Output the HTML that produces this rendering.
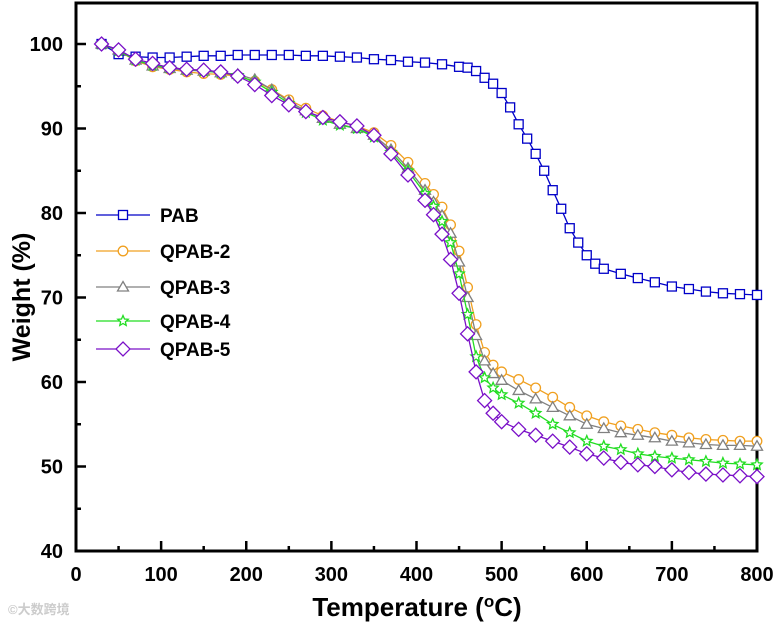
<!DOCTYPE html>
<html><head><meta charset="utf-8"><style>
body{margin:0;background:#fff;}
svg text{font-family:"Liberation Sans",sans-serif;font-weight:bold;}
</style></head><body>
<svg id="chart" width="779" height="625" xmlns="http://www.w3.org/2000/svg">
<g id="axes"></g>
<g id="series"></g>
<g id="legend"></g>
<text x="417" y="616" text-anchor="middle" font-size="26">Temperature (<tspan font-size="17" dy="-9">o</tspan><tspan dy="9">C)</tspan></text>
<text transform="translate(30,297) rotate(-90)" text-anchor="middle" font-size="25">Weight (%)</text>
<text x="8" y="614" font-size="13" fill="#ccc" font-weight="normal" style="font-family:'Liberation Sans','Noto Sans CJK SC',sans-serif">©大数跨境</text>
</svg>
<script>
const xTicks=[0,100,200,300,400,500,600,700,800];
const yTicks=[40,50,60,70,80,90,100];
const seriesNames=["PAB","QPAB-2","QPAB-3","QPAB-4","QPAB-5"];
const tempPAB=[30,50,70,90,110,130,150,170,190,210,230,250,270,290,310,330,350,370,390,410,430,450,460,470,480,490,500,510,520,530,540,550,560,570,580,590,600,610,620,640,660,680,700,720,740,760,780,800];
const wPAB=[100,98.8,98.5,98.4,98.4,98.5,98.6,98.6,98.7,98.7,98.7,98.7,98.6,98.6,98.5,98.4,98.2,98.1,97.9,97.8,97.6,97.3,97.2,96.8,96.0,95.3,94.2,92.5,90.5,88.8,87.0,85.0,82.7,80.5,78.2,76.5,75.0,74.0,73.4,72.8,72.3,71.8,71.3,71.0,70.7,70.5,70.4,70.3];
const tempQ=[30,50,70,90,110,130,150,170,190,210,230,250,270,290,310,330,350,370,390,410,420,430,440,450,460,470,480,490,500,520,540,560,580,600,620,640,660,680,700,720,740,760,780,800];
const wQ2=[100,99.2,98.0,97.3,97.0,96.7,96.5,96.4,96.2,95.6,94.6,93.4,92.4,91.5,90.8,90.3,89.5,88.0,86.0,83.5,82.2,80.7,78.6,75.5,71.2,66.8,63.5,62.0,61.2,60.3,59.3,58.2,57.0,56.0,55.3,54.8,54.4,54.0,53.7,53.4,53.2,53.1,53.0,53.0];
const wQ3=[100,99.3,98.1,97.4,97.1,96.9,96.8,96.6,96.4,95.8,94.6,93.2,92.1,91.2,90.5,90.0,89.2,87.5,85.3,82.7,81.3,79.7,77.6,74.2,70.0,65.5,62.5,61.0,60.2,59.0,58.0,57.0,56.0,55.0,54.5,54.0,53.7,53.4,53.0,52.8,52.6,52.5,52.5,52.4];
const wQ4=[100,99.2,98.1,97.5,97.2,97.0,96.8,96.6,96.3,95.5,94.3,93.0,91.9,91.0,90.4,90.0,89.0,87.2,85.0,82.3,80.8,79.0,76.5,72.8,68.0,63.0,60.5,59.3,58.5,57.5,56.3,55.0,54.0,53.0,52.4,52.0,51.5,51.2,51.0,50.8,50.6,50.4,50.3,50.2];
const wQ5=[100,99.3,98.2,97.7,97.2,97.0,96.9,96.7,96.2,95.2,93.9,92.8,92.0,91.3,90.8,90.3,89.2,87.0,84.5,81.5,79.8,77.5,74.5,70.5,65.7,61.2,57.8,56.3,55.3,54.4,53.7,53.0,52.3,51.5,51.0,50.5,50.2,50.0,49.6,49.3,49.1,49.0,48.9,48.8];

const NS="http://www.w3.org/2000/svg";
const X0=76,X1=757,Y0=551,YT=3;
const xs=v=>X0+(v-0)/800*(X1-X0);
const ys=v=>Y0-(v-40)/60*(Y0-44);
function mk(tag,attrs,parent){const e=document.createElementNS(NS,tag);for(const k in attrs)e.setAttribute(k,attrs[k]);parent.appendChild(e);return e;}
const axes=document.getElementById('axes');
const frame=mk('rect',{x:X0,y:YT,width:X1-X0,height:Y0-YT,fill:'none',stroke:'#000','stroke-width':3},axes);


xTicks.forEach(v=>{
  const x=xs(v);
  const t=mk('line',{x1:x,x2:x,y1:Y0,y2:Y0-10,stroke:'#000','stroke-width':2.5},axes);
  
  
  if(v<800){const m=mk('line',{x1:xs(v+50),x2:xs(v+50),y1:Y0,y2:Y0-5,stroke:'#000','stroke-width':2.5},axes);
  
  }
  const l=mk('text',{x:x,y:581,'text-anchor':'middle','font-size':20},axes);l.textContent=v;
  
  
});
yTicks.forEach(v=>{
  const y=ys(v);
  const t=mk('line',{x1:X0,x2:X0+10,y1:y,y2:y,stroke:'#000','stroke-width':2.5},axes);
  
  
  if(v<100){const m=mk('line',{x1:X0,x2:X0+5,y1:ys(v+5),y2:ys(v+5),stroke:'#000','stroke-width':2.5},axes);
  
  }
  const l=mk('text',{x:63,y:y+7,'text-anchor':'end','font-size':20},axes);l.textContent=v;
  
  
});
function marker(kind,x,y,color,g){
  let e;
  if(kind==='square')e=mk('rect',{x:x-4.5,y:y-4.5,width:9,height:9},g);
  else if(kind==='circle')e=mk('circle',{cx:x,cy:y,r:4.8},g);
  else if(kind==='triangle')e=mk('polygon',{points:`${x},${y-5.5} ${x+5.5},${y+4} ${x-5.5},${y+4}`},g);
  else if(kind==='star'){let p=[];for(let i=0;i<10;i++){const r=i%2?2.5:5.5,a=-Math.PI/2+i*Math.PI/5;p.push((x+r*Math.cos(a)).toFixed(1)+','+(y+r*Math.sin(a)).toFixed(1));}e=mk('polygon',{points:p.join(' ')},g);}
  else e=mk('polygon',{points:`${x},${y-7} ${x+7},${y} ${x},${y+7} ${x-7},${y}`},g);
  e.setAttribute('fill','#fff');e.setAttribute('stroke',color);e.setAttribute('stroke-width',1.3);
  return e;
}
const defs=[
 {t:tempPAB,w:wPAB,c:'#0000c8',k:'square'},
 {t:tempQ,w:wQ2,c:'#f0a020',k:'circle'},
 {t:tempQ,w:wQ3,c:'#808080',k:'triangle'},
 {t:tempQ,w:wQ4,c:'#22dd22',k:'star'},
 {t:tempQ,w:wQ5,c:'#7a10c8',k:'diamond'}];
const sg=document.getElementById('series');
const lg=document.getElementById('legend');
const legY=[215,251,287,321,349];
defs.forEach((d,i)=>{
  const g=mk('g',{},sg);
  
  
  const pts=d.t.map((t,j)=>xs(t).toFixed(1)+','+ys(d.w[j]).toFixed(1)).join(' ');
  const pl=mk('polyline',{points:pts,fill:'none',stroke:d.c,'stroke-width':1.3},g);
  
  
  d.t.forEach((t,j)=>{const m=marker(d.k,xs(t),ys(d.w[j]),d.c,g);
    
    });
  const le=mk('g',{},lg);
  
  
  mk('line',{x1:96,x2:150,y1:legY[i],y2:legY[i],stroke:d.c,'stroke-width':1.3},le);
  marker(d.k,123,legY[i],d.c,le);
  const tx=mk('text',{x:160,y:legY[i]+7,'font-size':19},le);tx.textContent=seriesNames[i];
});
</script>
</body></html>
